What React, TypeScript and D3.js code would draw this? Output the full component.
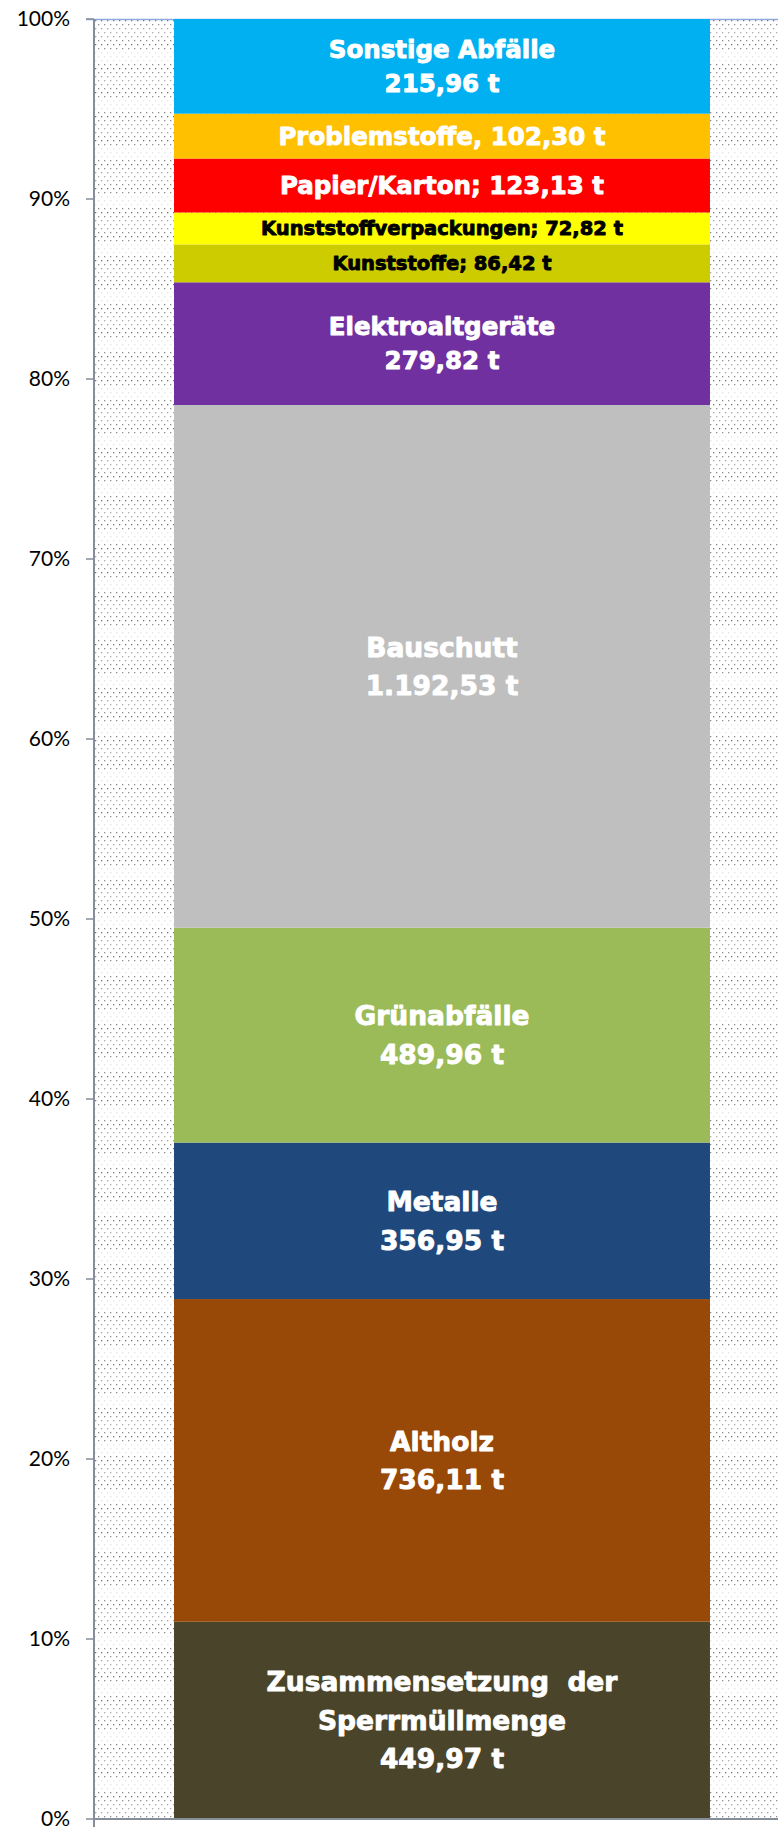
import React from 'react';
import * as d3 from 'd3';

const categories = [
  'Zusammensetzung  der\nSperrmüllmenge',
  'Altholz',
  'Metalle',
  'Grünabfälle',
  'Bauschutt',
  'Elektroaltgeräte',
  'Kunststoffe',
  'Kunststoffverpackungen',
  'Papier/Karton',
  'Problemstoffe',
  'Sonstige Abfälle',
];
const values = [449.97, 736.11, 356.95, 489.96, 1192.53, 279.82, 86.42, 72.82, 123.13, 102.3, 215.96];
const separators = ['\n', '\n', '\n', '\n', '\n', '\n', '; ', '; ', '; ', ', ', '\n'];
const colors = ['#4A452A', '#984807', '#1F497D', '#9BBB59', '#BFBFBF', '#7030A0', '#CCCC00', '#FFFF00', '#FF0000', '#FFC000', '#00B0F0'];
const labelColors = ['#fff', '#fff', '#fff', '#fff', '#fff', '#fff', '#000', '#000', '#fff', '#fff', '#fff'];
const labelSizes = [26.5, 26.5, 26.5, 26.5, 26.5, 24.5, 19.5, 19.5, 24.5, 24.5, 24.5];
const lineHeights = [38.5, 38.5, 38.5, 38.5, 38.5, 34, 34, 34, 34, 34, 34];
const tickValues = [0, 0.1, 0.2, 0.3, 0.4, 0.5, 0.6, 0.7, 0.8, 0.9, 1];

const W = 778;
const H = 1838;
const plotLeft = 94;
const plotRight = 790;
const plotTop = 19;
const plotBottom = 1819;

const de = d3.formatLocale({ decimal: ',', thousands: '.', grouping: [3], currency: ['', '€'] });
const fmt = de.format(',.2f');
const pct = d3.format('.0%');

export default function App() {
  const total = d3.sum(values);
  const y = d3.scaleLinear().domain([0, 1]).range([plotBottom, plotTop]);
  const x = d3.scaleBand<string>().domain(['Sperrmüll']).range([plotLeft, plotRight]).paddingInner(0).paddingOuter(0.1493);
  const bx = x('Sperrmüll') as number;
  const bw = x.bandwidth();
  const cx = bx + bw / 2;

  let cum = 0;
  const segs = values.map((v, i) => {
    const y0 = cum / total;
    cum += v;
    const y1 = cum / total;
    const label = categories[i] + separators[i] + fmt(v) + ' t';
    return { i, y0, y1, label };
  });

  return (
    <svg width={W} height={H} style={{ position: 'absolute', left: 0, top: 0, background: '#fff' }}>
      <defs>
        <pattern id="dots" width="6" height="48" patternUnits="userSpaceOnUse" x={plotLeft} y={plotTop}>
          <rect width="6" height="48" fill="#fff" />
          {d3.range(0, 48, 4).map((yy, k) => {
            const phase = yy / 48;
            const op = phase > 0.62 && phase < 0.85 ? 0.15 : 0.75 - 0.3 * Math.abs(Math.sin(phase * Math.PI * 2));
            return (
              <rect key={k} x={(k % 2) * 3 + 1} y={yy + 1} width="1.3" height="1.3" fill="#444" opacity={op} />
            );
          })}
        </pattern>
      </defs>
      <rect x={plotLeft} y={plotTop} width={plotRight - plotLeft} height={plotBottom - plotTop} fill="url(#dots)" />
      <line x1={plotLeft - 8} x2={plotRight} y1={plotTop + 0.5} y2={plotTop + 0.5} stroke="#8EA9DB" strokeWidth={1.5} />
      {segs.map((s) => (
        <rect key={s.i} x={bx} width={bw} y={y(s.y1)} height={y(s.y0) - y(s.y1)} fill={colors[s.i]} />
      ))}
      {segs.map((s) => {
        const lines = s.label.split('\n');
        const c = (y(s.y0) + y(s.y1)) / 2;
        const fs = labelSizes[s.i];
        const lh = lineHeights[s.i];
        return (
          <text
            key={'l' + s.i}
            textAnchor="middle"
            fontFamily="'DejaVu Sans', sans-serif"
            fontWeight="bold"
            fontSize={fs}
            fill={labelColors[s.i]}
            stroke={labelColors[s.i]}
            strokeWidth={0.9}
            strokeLinejoin="round"
            style={{ whiteSpace: 'pre' }}
          >
            {lines.map((ln, k) => (
              <tspan key={k} x={cx} y={c + (k - (lines.length - 1) / 2) * lh + 0.36 * fs}>
                {ln}
              </tspan>
            ))}
          </text>
        );
      })}
      <line x1={plotLeft} x2={plotLeft} y1={plotTop} y2={plotBottom + 8} stroke="#868E9A" strokeWidth={2} />
      <line x1={plotLeft} x2={plotRight} y1={plotBottom} y2={plotBottom} stroke="#868E9A" strokeWidth={2} />
      {tickValues.map((t) => (
        <g key={t}>
          <line x1={plotLeft - 8} x2={plotLeft} y1={y(t)} y2={y(t)} stroke="#868E9A" strokeWidth={1.5} />
          <text x={70} y={y(t)} dy="0.35em" textAnchor="end" fontFamily="Lato, sans-serif" fontSize={21} fill="#000">
            {pct(t)}
          </text>
        </g>
      ))}
    </svg>
  );
}
